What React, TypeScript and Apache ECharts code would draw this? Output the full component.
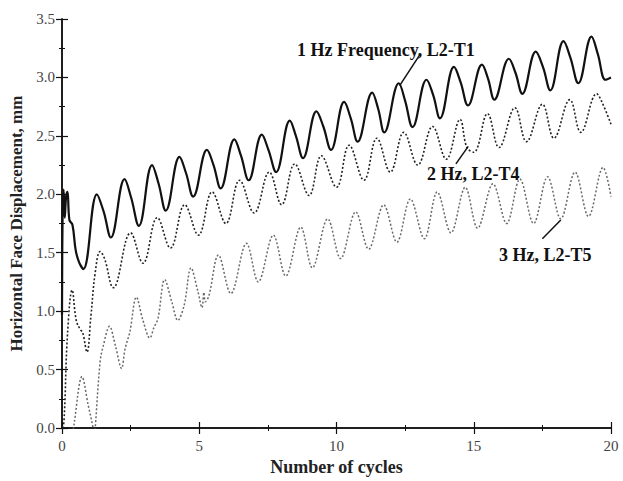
import React, { useEffect, useRef } from "react";
import * as echarts from "echarts";

// 1 Hz Frequency, L2-T1 : [cycles, displacement mm]
const hz1: number[][] = [
  [0.0, 0.97], [0.02, 1.78], [0.06, 2.04], [0.1, 1.8], [0.15, 1.98], [0.2, 2.02], [0.27, 1.78], [0.38, 1.74], [0.5, 1.52], [0.62, 1.42], [0.78, 1.36],
  [1.27, 2.0], [1.52, 1.85], [1.78, 1.63],
  [2.28, 2.13], [2.52, 1.97], [2.8, 1.73],
  [3.28, 2.25], [3.52, 2.09], [3.78, 1.86],
  [4.28, 2.32], [4.52, 2.18], [4.78, 1.98],
  [5.28, 2.38], [5.52, 2.25], [5.78, 2.05],
  [6.28, 2.47], [6.52, 2.33], [6.8, 2.12],
  [7.28, 2.51], [7.52, 2.38], [7.8, 2.19],
  [8.3, 2.63], [8.52, 2.5], [8.78, 2.31],
  [9.27, 2.71], [9.52, 2.58], [9.8, 2.38],
  [10.28, 2.79], [10.52, 2.65], [10.77, 2.45],
  [11.3, 2.87], [11.52, 2.73], [11.74, 2.53],
  [12.27, 2.95], [12.5, 2.8], [12.77, 2.575],
  [13.28, 2.98], [13.52, 2.85], [13.77, 2.65],
  [14.28, 3.09], [14.52, 2.96], [14.79, 2.76],
  [15.3, 3.11], [15.52, 2.99], [15.75, 2.81],
  [16.28, 3.16], [16.52, 3.04], [16.77, 2.86],
  [17.26, 3.22], [17.52, 3.09], [17.79, 2.89],
  [18.27, 3.31], [18.52, 3.17], [18.81, 2.95],
  [19.29, 3.35], [19.52, 3.2], [19.8, 2.98],
  [20.0, 3.0],
];

// 2 Hz, L2-T4
const hz2: number[][] = [
  [0.0, 0.0], [0.07, 0.05], [0.2, 0.8], [0.37, 1.18], [0.52, 0.92], [0.67, 0.84], [0.75, 0.82], [0.91, 0.65],
  [1.05, 0.95], [1.21, 1.33], [1.39, 1.51], [1.55, 1.45], [1.87, 1.2],
  [2.5, 1.67], [2.95, 1.41], [3.47, 1.8], [3.95, 1.54], [4.47, 1.91], [4.97, 1.65],
  [5.47, 2.02], [5.97, 1.75], [6.47, 2.12], [7.0, 1.84], [7.55, 2.19], [8.0, 1.91],
  [8.48, 2.26], [9.0, 1.99], [9.45, 2.33], [10.0, 2.06], [10.46, 2.42], [11.0, 2.12],
  [11.47, 2.48], [11.96, 2.19], [12.45, 2.53], [12.96, 2.25], [13.5, 2.58], [14.0, 2.3],
  [14.5, 2.64], [14.75, 2.4], [15.0, 2.36], [15.5, 2.69], [15.92, 2.4], [16.5, 2.74],
  [16.92, 2.45], [17.5, 2.77], [17.92, 2.48], [18.5, 2.81], [18.9, 2.53], [19.48, 2.86],
  [19.65, 2.8], [20.0, 2.6],
];

// 3 Hz, L2-T5
const hz3: number[][] = [
  [0.35, -0.15], [0.45, 0.05], [0.73, 0.44], [0.95, 0.2], [1.13, 0.0], [1.17, -0.1], [1.21, 0.0],
  [1.39, 0.57], [1.5, 0.7], [1.73, 0.87], [1.95, 0.7], [2.17, 0.51], [2.3, 0.68], [2.47, 0.82],
  [2.71, 1.12], [2.95, 0.92], [3.2, 0.77], [3.35, 0.86], [3.5, 0.94], [3.74, 1.27], [4.0, 1.08],
  [4.22, 0.92], [4.45, 1.05], [4.7, 1.37], [4.95, 1.17], [5.1, 1.03], [5.17, 1.16], [5.22, 1.08],
  [5.35, 1.13], [5.7, 1.48], [6.15, 1.15], [6.72, 1.58], [7.15, 1.25], [7.7, 1.65], [8.15, 1.3],
  [8.7, 1.72], [9.12, 1.37], [9.68, 1.79], [10.15, 1.45], [10.7, 1.85], [11.17, 1.53], [11.72, 1.91],
  [12.2, 1.59], [12.69, 1.96], [13.2, 1.62], [13.67, 2.02], [14.17, 1.67], [14.69, 2.06], [15.14, 1.71],
  [15.7, 2.09], [16.2, 1.75], [16.68, 2.13], [17.18, 1.75], [17.69, 2.15], [18.17, 1.79], [18.69, 2.19],
  [19.18, 1.81], [19.71, 2.23], [20.0, 1.98],
];

// leader lines [from, to] in data coordinates
const leader1: number[][] = [[13.05, 3.2], [12.3, 2.93]];
const leader2: number[][] = [[14.35, 2.26], [14.8, 2.41]];
const leader3: number[][] = [[17.5, 1.62], [18.17, 1.78]];

const xTicks = { min: 0, max: 20, interval: 5 };
const yTicks = { min: 0, max: 3.5, interval: 0.5 };

const SERIF = "'Liberation Serif', 'Times New Roman', serif";

export default function App() {
  const ref = useRef<HTMLDivElement>(null);
  useEffect(() => {
    if (!ref.current) return;
    const chart = echarts.init(ref.current, undefined, { renderer: "svg" });
    const axisLine = { show: true, lineStyle: { color: "#111", width: 1.5 } };
    const axisTick = { show: true, inside: true, length: 6, lineStyle: { color: "#111", width: 1.2 } };
    const minorTick = { show: true, splitNumber: 2, length: 3, lineStyle: { color: "#111", width: 1 } };
    const label = { fontFamily: SERIF, fontSize: 15, color: "#444" };
    const leader = (pts: number[][]) => ({
      type: "line", data: pts, showSymbol: false, silent: true, z: 3,
      lineStyle: { color: "#111", width: 1.5, type: "solid" },
    });
    chart.setOption({
      animation: false,
      backgroundColor: "#fff",
      grid: { left: 58, right: 12, top: 19, bottom: 42 },
      xAxis: [
        {
          type: "value", ...xTicks, position: "bottom",
          axisLine, axisTick, minorTick, splitLine: { show: false },
          axisLabel: { ...label, margin: 10 },
          name: "Number of cycles", nameLocation: "middle", nameGap: 30,
          nameTextStyle: { fontFamily: SERIF, fontSize: 18, fontWeight: "bold", color: "#222" },
        },
        {
          type: "value", ...xTicks, position: "top",
          axisLine, axisTick, minorTick, splitLine: { show: false },
          axisLabel: { show: false },
        },
      ],
      yAxis: [
        {
          type: "value", ...yTicks, position: "left",
          axisLine, axisTick, minorTick, splitLine: { show: false },
          axisLabel: { ...label, margin: 7, formatter: (v: number) => v.toFixed(1) },
          name: "Horizontal Face Displacement, mm", nameLocation: "middle", nameGap: 37,
          nameTextStyle: { fontFamily: SERIF, fontSize: 17, fontWeight: "bold", color: "#222" },
        },
        {
          type: "value", ...yTicks, position: "right",
          axisLine, axisTick, minorTick, splitLine: { show: false },
          axisLabel: { show: false },
        },
      ],
      series: [
        {
          name: "1 Hz Frequency, L2-T1", type: "line", data: hz1, showSymbol: false, smooth: 0.4,
          lineStyle: { color: "#111", width: 2.2 },
        },
        {
          name: "2 Hz, L2-T4", type: "line", data: hz2, showSymbol: false, smooth: 0.4,
          lineStyle: { color: "#222", width: 1.6, type: [2, 2] },
        },
        {
          name: "3 Hz, L2-T5", type: "line", data: hz3, showSymbol: false, smooth: 0.35,
          lineStyle: { color: "#6a6a6a", width: 1.5, type: [2, 2] },
        },
        leader(leader1),
        leader(leader2),
        leader(leader3),
      ],
      graphic: [
        { type: "text", left: 297, top: 41, style: { text: "1 Hz Frequency, L2-T1", font: `bold 18px ${SERIF}`, fill: "#111" } },
        { type: "text", left: 427, top: 165, style: { text: "2 Hz, L2-T4", font: `bold 18px ${SERIF}`, fill: "#111" } },
        { type: "text", left: 499, top: 246, style: { text: "3 Hz, L2-T5", font: `bold 18px ${SERIF}`, fill: "#111" } },
      ],
    });
    return () => chart.dispose();
  }, []);
  return <div ref={ref} style={{ width: 623, height: 481, position: "absolute", left: 0, top: 0 }} />;
}
